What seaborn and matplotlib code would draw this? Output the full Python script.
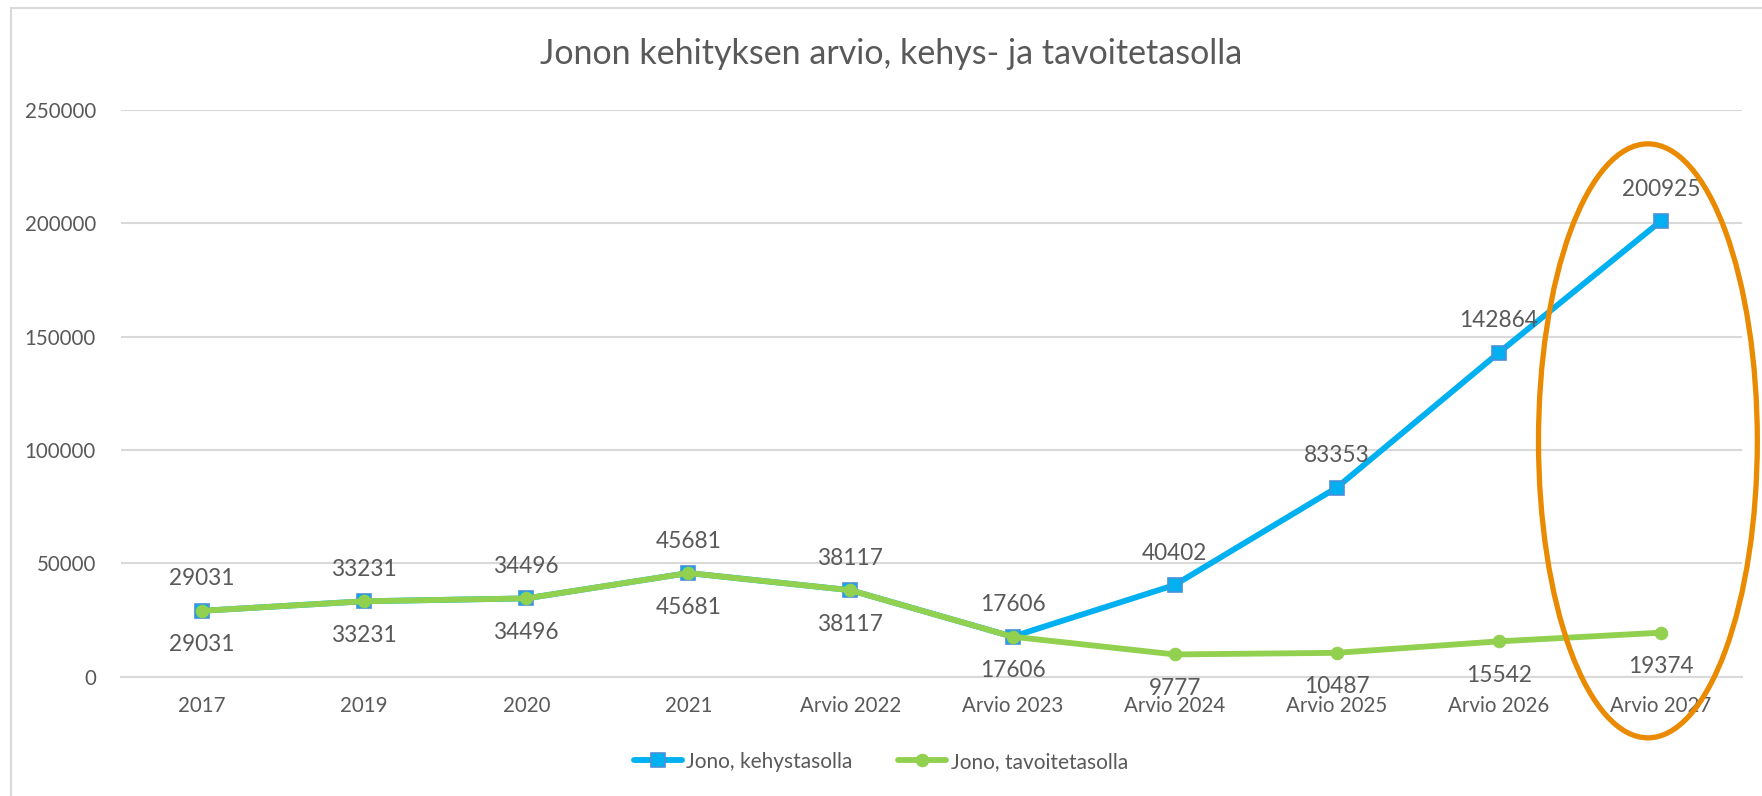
import matplotlib
matplotlib.use("Agg")
import matplotlib.pyplot as plt
import seaborn as sns
import pandas as pd
from matplotlib.patches import Ellipse

categories = ["2017", "2019", "2020", "2021", "Arvio 2022", "Arvio 2023",
              "Arvio 2024", "Arvio 2025", "Arvio 2026", "Arvio 2027"]
kehys = [29031, 33231, 34496, 45681, 38117, 17606, 40402, 83353, 142864, 200925]
tavoite = [29031, 33231, 34496, 45681, 38117, 17606, 9777, 10487, 15542, 19374]
yticks = [0, 50000, 100000, 150000, 200000, 250000]

sns.set_style("white")
plt.rcParams["font.family"] = ["Lato", "DejaVu Sans"]

blue = "#00B0F0"
green = "#92D050"
grey = "#595959"

df_k = pd.DataFrame({"vuosi": categories, "jono": kehys})
df_t = pd.DataFrame({"vuosi": categories, "jono": tavoite})

fig = plt.figure(figsize=(17.62, 7.96), dpi=100)
ax = fig.add_axes([0.0687, 0.150, 0.9199, 0.712])

sns.lineplot(data=df_k, x="vuosi", y="jono", ax=ax, color=blue, linewidth=4.2,
             marker="s", markersize=10, markerfacecolor=blue,
             markeredgecolor="#4A90D9", markeredgewidth=1.2,
             label="Jono, kehystasolla", zorder=3, sort=False)
sns.lineplot(data=df_t, x="vuosi", y="jono", ax=ax, color=green, linewidth=4.2,
             marker="o", markersize=9, markerfacecolor=green,
             markeredgecolor=green, label="Jono, tavoitetasolla", zorder=4, sort=False)

# data labels: kehys above, tavoite below
for i, v in enumerate(kehys):
    ax.annotate(str(v), (i, v), xytext=(0, 32), textcoords="offset pixels",
                ha="center", va="center", fontsize=16.3, color=grey)
for i, v in enumerate(tavoite):
    ax.annotate(str(v), (i, v), xytext=(0, -34), textcoords="offset pixels",
                ha="center", va="center", fontsize=16.3, color=grey)

ax.set_xlim(-0.5, len(categories) - 0.5)
ax.set_ylim(0, 250000)
ax.set_yticks(yticks)
ax.set_yticklabels([str(t) for t in yticks])
ax.yaxis.grid(True, color="#D9D9D9", linewidth=1.5)
ax.xaxis.grid(False)
for s in ["top", "right", "left"]:
    ax.spines[s].set_visible(False)
ax.spines["bottom"].set_color("#D9D9D9")
ax.spines["bottom"].set_linewidth(1.5)
ax.tick_params(axis="both", length=0, labelsize=14.8, labelcolor=grey, pad=14)
ax.tick_params(axis="y", pad=18)
ax.set_xlabel("")
ax.set_ylabel("")

ax.legend_.remove()
handles, labels = ax.get_legend_handles_labels()
fig.legend(handles, labels, loc="center", bbox_to_anchor=(0.5, 0.043), ncol=2,
           frameon=False, fontsize=15, labelcolor=grey, handlelength=2.3,
           handletextpad=0.2, columnspacing=2.2)

fig.text(0.506, 0.932, "Jonon kehityksen arvio, kehys- ja tavoitetasolla",
         ha="center", va="center", fontsize=24.5, color=grey)

# highlight ellipse around the last estimate
ell = Ellipse((8.92, 104000), width=1.35, height=262000, fill=False,
              edgecolor="#E98A00", linewidth=3.8, clip_on=False, zorder=5)
ax.add_patch(ell)

# chart border
fig.add_artist(plt.Line2D([0.006, 0.006], [0, 0.99], color="#D9D9D9", linewidth=1.5))
fig.add_artist(plt.Line2D([0.006, 1], [0.99, 0.99], color="#D9D9D9", linewidth=1.5))

fig.savefig("out.png", dpi=100)
